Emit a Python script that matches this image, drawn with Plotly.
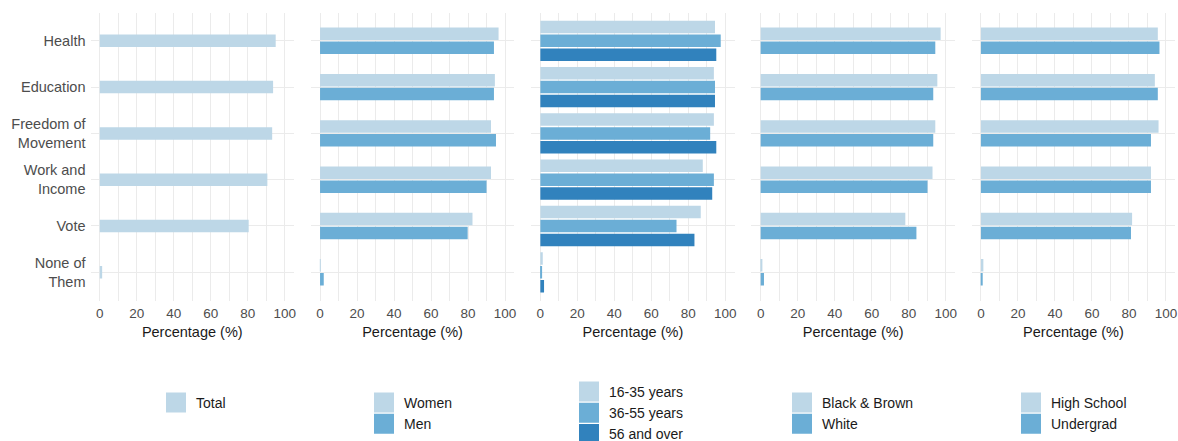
import plotly.graph_objects as go

# ---------------- data ----------------
categories = ["Health", "Education", "Freedom of<br>Movement", "Work and<br>Income", "Vote", "None of<br>Them"]

total = [95.1, 93.7, 93.2, 90.6, 80.5, 1.3]

women = [96.5, 94.5, 92.4, 92.4, 82.4, 0.3]
men = [94.0, 94.0, 95.1, 90.0, 79.8, 2.0]

age_16_35 = [94.4, 93.8, 93.8, 87.8, 86.7, 1.3]
age_36_55 = [97.5, 94.4, 91.8, 93.8, 73.6, 0.9]
age_56_over = [95.1, 94.4, 95.1, 92.9, 83.3, 2.0]

black_brown = [97.3, 95.5, 94.4, 92.9, 78.2, 0.7]
white = [94.4, 93.3, 93.3, 90.2, 84.2, 1.8]

high_school = [95.6, 94.0, 96.0, 91.9, 81.7, 1.3]
undergrad = [96.5, 95.6, 91.9, 91.9, 81.1, 0.9]

x_ticks = [0, 20, 40, 60, 80, 100]
x_title = "Percentage (%)"

# ---------------- styles ----------------
LIGHT = "#bdd7e7"
MID = "#6baed6"
DARK = "#3182bd"

panels = [
    [("Total", total, LIGHT)],
    [("Women", women, LIGHT), ("Men", men, MID)],
    [("16-35 years", age_16_35, LIGHT), ("36-55 years", age_36_55, MID), ("56 and over", age_56_over, DARK)],
    [("Black & Brown", black_brown, LIGHT), ("White", white, MID)],
    [("High School", high_school, LIGHT), ("Undergrad", undergrad, MID)],
]

W, H = 1178, 441
FONT = "Liberation Sans, Arial, sans-serif"
panel_left_px = [90.5 + 220.3 * k for k in range(5)]
panel_w_px = 203.5
y_top_px, y_bot_px = 13, 301
legend_left_px = [156, 364, 569, 782, 1011]
legend_top_px = [387, 387, 376, 387, 387]

PITCH = 0.3
BAR_W = 0.27

fig = go.Figure()

for p, series in enumerate(panels):
    ax = "" if p == 0 else str(p + 1)
    n = len(series)
    leg = "legend" if p == 0 else f"legend{p + 1}"
    for i, (name, vals, color) in enumerate(series):
        center = PITCH * (n - 1) / 2 - PITCH * i
        fig.add_trace(go.Bar(
            y=categories, x=vals, orientation="h",
            width=BAR_W, offset=center - BAR_W / 2,
            marker=dict(color=color, line=dict(width=0)),
            name=name, showlegend=False,
            xaxis="x" + ax, yaxis="y" + ax,
            hovertemplate="%{y}: %{x}%<extra>" + name + "</extra>",
        ))
    for i, (name, vals, color) in enumerate(series):
        fig.add_trace(go.Scatter(
            x=[None], y=[None], mode="markers",
            marker=dict(symbol="square", size=16, color=color, line=dict(color=color, width=4)),
            name=name, showlegend=True, legend=leg,
            xaxis="x" + ax, yaxis="y" + ax, hoverinfo="skip",
        ))

    x0 = panel_left_px[p] / W
    x1 = (panel_left_px[p] + panel_w_px) / W
    xaxis = dict(
        domain=[x0, x1], anchor="y" + ax, range=[-5, 105],
        tickmode="array", tickvals=x_ticks, ticktext=[str(t) for t in x_ticks],
        showgrid=True, gridcolor="#ebebeb", gridwidth=1.1,
        minor=dict(dtick=10, tick0=0, showgrid=True, gridcolor="#ebebeb", gridwidth=0.6),
        zeroline=False, showline=False, ticks="", ticklabelstandoff=2,
        tickfont=dict(family=FONT, size=13.5, color="#4d4d4d"),
        title=dict(text=x_title, font=dict(family=FONT, size=14.5, color="#1a1a1a"), standoff=7),
        fixedrange=True,
    )
    yaxis = dict(
        domain=[1 - y_bot_px / H, 1 - y_top_px / H], anchor="x" + ax,
        type="category", categoryorder="array", categoryarray=categories[::-1],
        range=[-0.62, 5.6],
        showgrid=True, gridcolor="#ebebeb", gridwidth=1.1,
        zeroline=False, showline=False, ticks="",
        showticklabels=(p == 0), ticklabelstandoff=4,
        tickfont=dict(family=FONT, size=14.5, color="#4d4d4d"),
        fixedrange=True,
    )
    fig.layout["xaxis" + ax] = xaxis
    fig.layout["yaxis" + ax] = yaxis
    fig.layout[leg] = dict(
        x=legend_left_px[p] / W, y=1 - legend_top_px[p] / H,
        xanchor="left", yanchor="top", orientation="v",
        bgcolor="rgba(0,0,0,0)", borderwidth=0,
        itemsizing="trace", tracegroupgap=0,
        font=dict(family=FONT, size=14, color="#1a1a1a"),
    )

fig.update_layout(
    template="none",
    width=W, height=H,
    margin=dict(l=0, r=0, t=0, b=0, pad=0, autoexpand=False),
    paper_bgcolor="white", plot_bgcolor="white",
    barmode="overlay",
    font=dict(family=FONT, size=14, color="#1a1a1a"),
)

fig.write_html(
    "out.html",
    config={"displayModeBar": False},
    post_script="document.body.style.margin='0';document.body.style.overflow='hidden';",
)
